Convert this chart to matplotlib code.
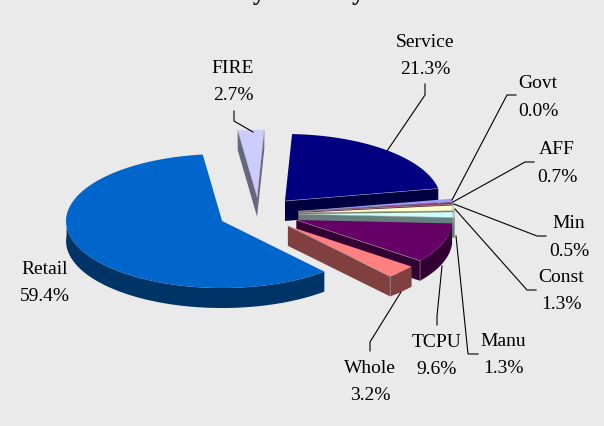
from __future__ import annotations

import matplotlib

matplotlib.use("Agg")
import matplotlib.pyplot as plt
import numpy as np

CATEGORIES = ["Service", "Govt", "AFF", "Min", "Const", "Manu", "TCPU", "Whole", "Retail", "FIRE"]
SHARES = [21.3, 0.0, 0.7, 0.5, 1.3, 1.3, 9.6, 3.2, 59.4, 2.7]
TOP_COLORS = ["#000080", "#FF00FF", "#9999FF", "#993366", "#FFFFCC", "#CCFFFF", "#660066", "#FF8080", "#0066CC", "#CCCCFF"]
SIDE_COLORS = ["#000040", "#800080", "#666680", "#4D1A33", "#808066", "#668080", "#330033", "#804040", "#003366", "#666680"]

BACKGROUND = "#EAEAEA"
CENTER = (258.7, 215.0)
RADIUS_X = 156.0
RADIUS_Y = 67.0
EXPLODE = 0.257
DEPTH = 20.0
START_ANGLE = 2.6
EDGE = "#A8A8A8"

# label centre, then leader line points (pixels of the 604x427 canvas)
LABEL_POS = {
    "Service": (425, 56),
    "Govt": (538, 97.5),
    "AFF": (557, 163.5),
    "Min": (569, 237.5),
    "Const": (561, 291),
    "Manu": (503, 355),
    "TCPU": (437, 356),
    "Whole": (370, 382),
    "Retail": (45, 283),
    "FIRE": (233, 82),
}
LEADERS = {
    "Service": [(425, 85), (425, 96), (387, 152)],
    "Govt": [(516, 96), (507, 96), (452, 201)],
    "AFF": [(534, 163), (525, 163), (453, 203)],
    "Min": [(546, 237), (537, 237), (454, 205)],
    "Const": [(536, 291), (527, 291), (455, 210)],
    "Manu": [(478, 355), (468, 355), (456, 237)],
    "TCPU": [(437, 326), (437, 317), (442, 267)],
    "Whole": [(370, 352), (370, 343), (401, 293)],
    "FIRE": [(234, 112), (234, 122), (253, 133)],
}


def _rim_point(angle_deg: np.ndarray, center: tuple[float, float]) -> tuple[np.ndarray, np.ndarray]:
    rad = np.radians(angle_deg)
    return center[0] + RADIUS_X * np.sin(rad), center[1] - RADIUS_Y * np.cos(rad)


def _draw_cut_face(ax: plt.Axes, apex: tuple[float, float], x: float, y: float, side: str) -> None:
    ax.fill(
        [apex[0], x, x, apex[0]],
        [apex[1], y, y + DEPTH, apex[1] + DEPTH],
        facecolor=side, edgecolor="none",
    )
    ax.plot([apex[0], x, x], [apex[1], y, y + DEPTH], color=EDGE, linewidth=0.5, alpha=0.7)


def _draw_slice(ax: plt.Axes, start: float, end: float, top: str, side: str) -> None:
    mid = np.radians((start + end) / 2)
    apex = (
        CENTER[0] + EXPLODE * RADIUS_X * np.sin(mid),
        CENTER[1] - EXPLODE * RADIUS_Y * np.cos(mid),
    )
    angles = np.linspace(start, end, max(int(end - start), 2) + 1)
    arc_x, arc_y = _rim_point(angles, apex)

    # only the faces turned towards the viewer
    if np.sin(np.radians(start)) < 0:
        _draw_cut_face(ax, apex, arc_x[0], arc_y[0], side)
    if np.sin(np.radians(end)) > 0:
        _draw_cut_face(ax, apex, arc_x[-1], arc_y[-1], side)

    front = (angles >= 85) & (angles <= 275)
    if front.sum() > 1:
        ax.fill(
            np.r_[arc_x[front], arc_x[front][::-1]],
            np.r_[arc_y[front], arc_y[front][::-1] + DEPTH],
            facecolor=side, edgecolor="none",
        )
    ax.fill(np.r_[apex[0], arc_x], np.r_[apex[1], arc_y], facecolor=top, edgecolor="none")


def main() -> int:
    plt.rcParams["font.family"] = ["Liberation Serif", "DejaVu Serif"]
    fig = plt.figure(figsize=(6.04, 4.27), dpi=100, facecolor=BACKGROUND)
    ax = fig.add_axes([0, 0, 1, 1])
    ax.set_xlim(0, 604)
    ax.set_ylim(427, 0)
    ax.axis("off")

    # only the descenders of the title's last line reach the canvas
    ax.text(302, 0, "by Industry", ha="center", va="baseline", fontsize=18, fontweight="bold",
            color="black", clip_on=True)

    edges = START_ANGLE + np.r_[0, np.cumsum(SHARES)] * 3.6
    # back slices first so nearer ones paint over them
    order = [9, 0, 1, 2, 3, 4, 5, 6, 7, 8]
    for i in order:
        if SHARES[i] > 0:
            _draw_slice(ax, edges[i], edges[i + 1], TOP_COLORS[i], SIDE_COLORS[i])

    for name, share in zip(CATEGORIES, SHARES):
        x, y = LABEL_POS[name]
        ax.text(x, y, f"{name}\n{share:.1f}%", ha="center", va="center", fontsize=14,
                color="black", linespacing=1.8)
        if name in LEADERS:
            xs, ys = zip(*LEADERS[name])
            ax.plot(xs, ys, color="black", linewidth=0.8, solid_joinstyle="miter")

    fig.savefig("out.png", dpi=100, facecolor=BACKGROUND)
    plt.close(fig)
    return 0


if __name__ == "__main__":
    raise SystemExit(main())
